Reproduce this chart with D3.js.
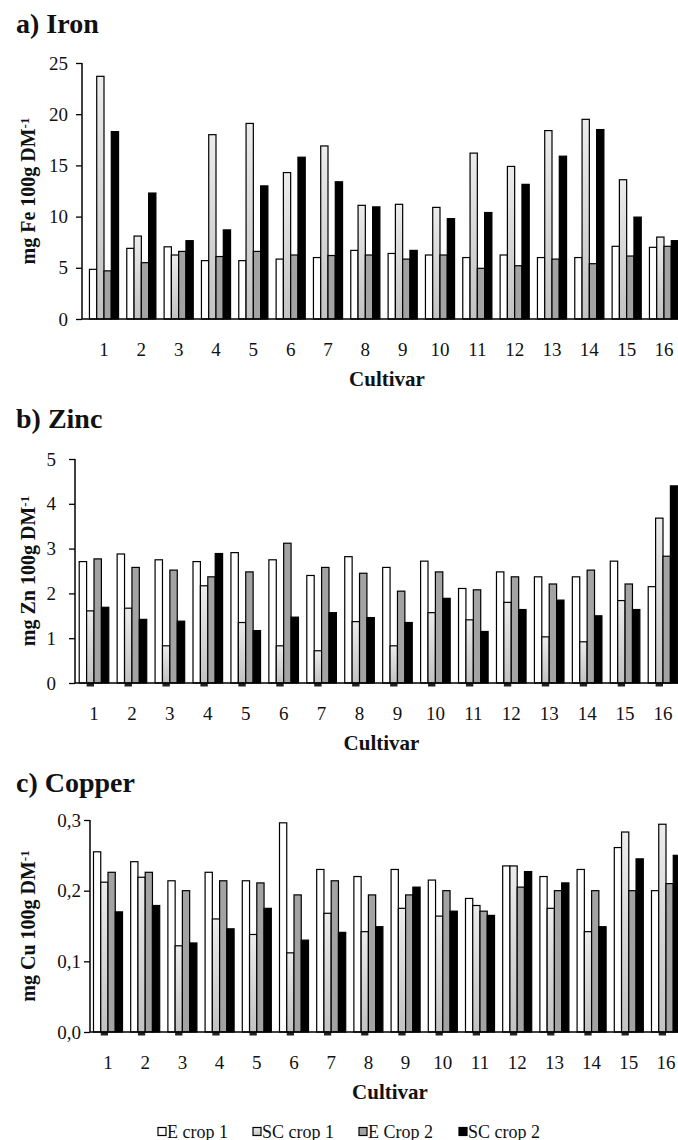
<!DOCTYPE html>
<html lang="en">
<head>
<meta charset="UTF-8">
<title>Fe Zn Cu by cultivar</title>
<script src="https://d3js.org/d3.v7.min.js"></script>
<style>
  body { margin: 0; background: #fff; }
  svg text { font-family: "Liberation Serif", "Times New Roman", serif; fill: #111; }
  .panel-title { font-size: 28px; font-weight: bold; }
  .y-title { font-size: 20px; font-weight: bold; }
  .x-title { font-size: 21px; font-weight: bold; }
  .tick text { font-size: 19px; }
  .legend text { font-size: 18px; }
</style>
</head>
<body>
<div id="chart"></div>
<script>

const width = 678;
const height = 1140;

// categories and series
const cultivars = ["1","2","3","4","5","6","7","8","9","10","11","12","13","14","15","16"];
const seriesNames = ["E crop 1", "SC crop 1", "E Crop 2", "SC crop 2"];

// a) Iron, mg Fe 100g DM-1
const ironE1  = [4.85, 6.9, 7.05, 5.7, 5.7, 5.85, 6.0, 6.7, 6.4, 6.25, 6.0, 6.25, 6.0, 6.0, 7.1, 7.0];
const ironSC1 = [23.7, 8.1, 6.25, 18.0, 19.1, 14.3, 16.9, 11.1, 11.2, 10.9, 16.2, 14.9, 18.4, 19.5, 13.6, 8.0];
const ironE2  = [4.7, 5.5, 6.6, 6.1, 6.6, 6.25, 6.2, 6.25, 5.85, 6.25, 4.95, 5.2, 5.85, 5.4, 6.15, 7.1];
const ironSC2 = [18.3, 12.3, 7.65, 8.7, 13.0, 15.8, 13.4, 10.95, 6.7, 9.8, 10.4, 13.15, 15.9, 18.5, 9.95, 7.65];

// b) Zinc, mg Zn 100g DM-1
const zincE1  = [2.71, 2.88, 2.75, 2.71, 2.91, 2.75, 2.4, 2.82, 2.58, 2.72, 2.11, 2.48, 2.37, 2.37, 2.72, 2.15];
const zincSC1 = [1.61, 1.67, 0.83, 2.17, 1.35, 0.83, 0.72, 1.37, 0.83, 1.57, 1.41, 1.8, 1.03, 0.92, 1.84, 3.68];
const zincE2  = [2.77, 2.58, 2.52, 2.37, 2.48, 3.12, 2.58, 2.45, 2.05, 2.48, 2.08, 2.37, 2.21, 2.52, 2.21, 2.83];
const zincSC2 = [1.69, 1.42, 1.38, 2.89, 1.17, 1.47, 1.57, 1.46, 1.35, 1.89, 1.15, 1.64, 1.85, 1.5, 1.64, 4.4];

// c) Copper, mg Cu 100g DM-1
const copperE1  = [0.255, 0.241, 0.214, 0.226, 0.214, 0.296, 0.230, 0.220, 0.230, 0.215, 0.189, 0.235, 0.220, 0.230, 0.261, 0.200];
const copperSC1 = [0.212, 0.219, 0.122, 0.160, 0.138, 0.112, 0.168, 0.142, 0.175, 0.164, 0.179, 0.235, 0.175, 0.142, 0.283, 0.294];
const copperE2  = [0.226, 0.226, 0.200, 0.214, 0.211, 0.194, 0.214, 0.194, 0.194, 0.200, 0.171, 0.205, 0.200, 0.200, 0.200, 0.210];
const copperSC2 = [0.170, 0.179, 0.126, 0.146, 0.175, 0.130, 0.141, 0.149, 0.205, 0.171, 0.165, 0.227, 0.211, 0.149, 0.245, 0.250];

// tick values
const ironTicks = [0, 5, 10, 15, 20, 25];
const zincTicks = [0, 1, 2, 3, 4, 5];
const copperTicks = [0, 0.1, 0.2, 0.3];

const commaLocale = d3.formatLocale({ decimal: ",", thousands: ".", grouping: [3], currency: ["", ""] });

const fills = ["#ffffff", "url(#scGrad)", "#a3a3a3", "#000000"];

const svg = d3.select("#chart")
  .append("svg")
    .attr("width", width)
    .attr("height", height);

// light gradient used for the SC crop 1 bars
const grad = svg.append("defs").append("linearGradient")
  .attr("id", "scGrad")
  .attr("x1", 0).attr("y1", 0).attr("x2", 0).attr("y2", 1);
grad.append("stop").attr("offset", "0%").attr("stop-color", "#ececec");
grad.append("stop").attr("offset", "100%").attr("stop-color", "#c2c2c2");

const panels = [
  { title: "a) Iron", titleY: 33, el: "Fe", top: 63, bottom: 319, axisX: 82, c1: 104, c16: 664,
    max: 25, ticks: ironTicks, fmt: d3.format("d"), pad: 8,
    data: [ironE1, ironSC1, ironE2, ironSC2], stubs: false },
  { title: "b) Zinc", titleY: 428, el: "Zn", top: 459, bottom: 683, axisX: 75, c1: 94, c16: 663,
    max: 5, ticks: zincTicks, fmt: d3.format("d"), pad: 13,
    data: [zincE1, zincSC1, zincE2, zincSC2], stubs: true },
  { title: "c) Copper", titleY: 792, el: "Cu", top: 820, bottom: 1032, axisX: 90, c1: 108, c16: 666,
    max: 0.3, ticks: copperTicks, fmt: commaLocale.format(".1f"), pad: 3,
    data: [copperE1, copperSC1, copperE2, copperSC2], stubs: true }
];

const p = 0.22;

panels.forEach(function(cfg) {
  const g = svg.append("g");

  // band scale so that group centres land on c1 ... c16
  const step = (cfg.c16 - cfg.c1) / (cultivars.length - 1);
  const x0start = cfg.c1 - step * (0.5 + p / 2);
  const x0 = d3.scaleBand()
    .domain(cultivars)
    .range([x0start, x0start + step * (cultivars.length + p)])
    .padding(p);
  const x1 = d3.scaleBand()
    .domain(seriesNames)
    .range([0, x0.bandwidth()]);
  const y = d3.scaleLinear()
    .domain([0, cfg.max])
    .range([cfg.bottom, cfg.top]);

  // title
  g.append("text")
    .attr("class", "panel-title")
    .attr("x", 16)
    .attr("y", cfg.titleY)
    .text(cfg.title);

  // bars
  const rows = cultivars.map((c, i) => ({ c: c, vals: cfg.data.map(s => s[i]) }));
  const grp = g.selectAll(".grp")
    .data(rows)
    .enter().append("g")
    .attr("transform", d => "translate(" + x0(d.c) + ",0)");

  grp.selectAll("rect")
    .data(d => d.vals.map((v, k) => ({ k: k, v: v })))
    .enter().append("rect")
    .attr("x", d => x1(seriesNames[d.k]))
    .attr("y", d => y(d.v))
    .attr("width", x1.bandwidth())
    .attr("height", d => cfg.bottom - y(d.v))
    .attr("fill", d => fills[d.k])
    .attr("stroke", "#000")
    .attr("stroke-width", 1.2);

  // little dark stubs below the baseline under SC crop 1
  if (cfg.stubs) {
    grp.append("rect")
      .attr("x", x1(seriesNames[1]))
      .attr("y", cfg.bottom)
      .attr("width", x1.bandwidth())
      .attr("height", 3.5)
      .attr("fill", "#222");
  }

  // y axis
  const yAxis = g.append("g")
    .attr("transform", "translate(" + cfg.axisX + ",0)")
    .call(d3.axisLeft(y).tickValues(cfg.ticks).tickFormat(cfg.fmt).tickSize(6).tickPadding(cfg.pad));
  yAxis.select(".domain").attr("stroke-width", 1.5).attr("d", "M0," + cfg.top + "V" + cfg.bottom);
  yAxis.selectAll(".tick line").attr("stroke-width", 1.3);
  yAxis.selectAll(".tick text").attr("fill", "#222");

  // x baseline
  g.append("line")
    .attr("x1", cfg.axisX).attr("x2", width)
    .attr("y1", cfg.bottom).attr("y2", cfg.bottom)
    .attr("stroke", "#000")
    .attr("stroke-width", 1.5);

  // x tick labels
  const xAxis = g.append("g")
    .attr("transform", "translate(0," + cfg.bottom + ")")
    .call(d3.axisBottom(x0).tickSize(0).tickPadding(24));
  xAxis.select(".domain").remove();
  xAxis.selectAll(".tick text").attr("fill", "#222");

  // x title
  g.append("text")
    .attr("class", "x-title")
    .attr("x", (cfg.c1 + cfg.c16) / 2 + 3)
    .attr("y", cfg.bottom + 67)
    .attr("text-anchor", "middle")
    .text("Cultivar");

  // y title
  const yt = g.append("text")
    .attr("class", "y-title")
    .attr("transform", "translate(35," + (cfg.top + cfg.bottom) / 2 + ") rotate(-90)")
    .attr("text-anchor", "middle");
  yt.append("tspan").text("mg " + cfg.el + " 100g DM");
  yt.append("tspan").attr("dy", "-0.5em").style("font-size", "13px").text("-1");
});

// legend
const legendItems = [
  { name: seriesNames[0], x: 158 },
  { name: seriesNames[1], x: 253 },
  { name: seriesNames[2], x: 359 },
  { name: seriesNames[3], x: 459 }
];
const legend = svg.append("g").attr("class", "legend");
const li = legend.selectAll("g")
  .data(legendItems)
  .enter().append("g")
  .attr("transform", d => "translate(" + d.x + ",1132)");
li.append("rect")
  .attr("x", 0).attr("y", -4.5)
  .attr("width", 8).attr("height", 8)
  .attr("fill", (d, i) => fills[i])
  .attr("stroke", "#000")
  .attr("stroke-width", 1.2);
li.append("text")
  .attr("x", 9)
  .attr("y", 5.5)
  .text(d => d.name);

</script>
</body>
</html>
